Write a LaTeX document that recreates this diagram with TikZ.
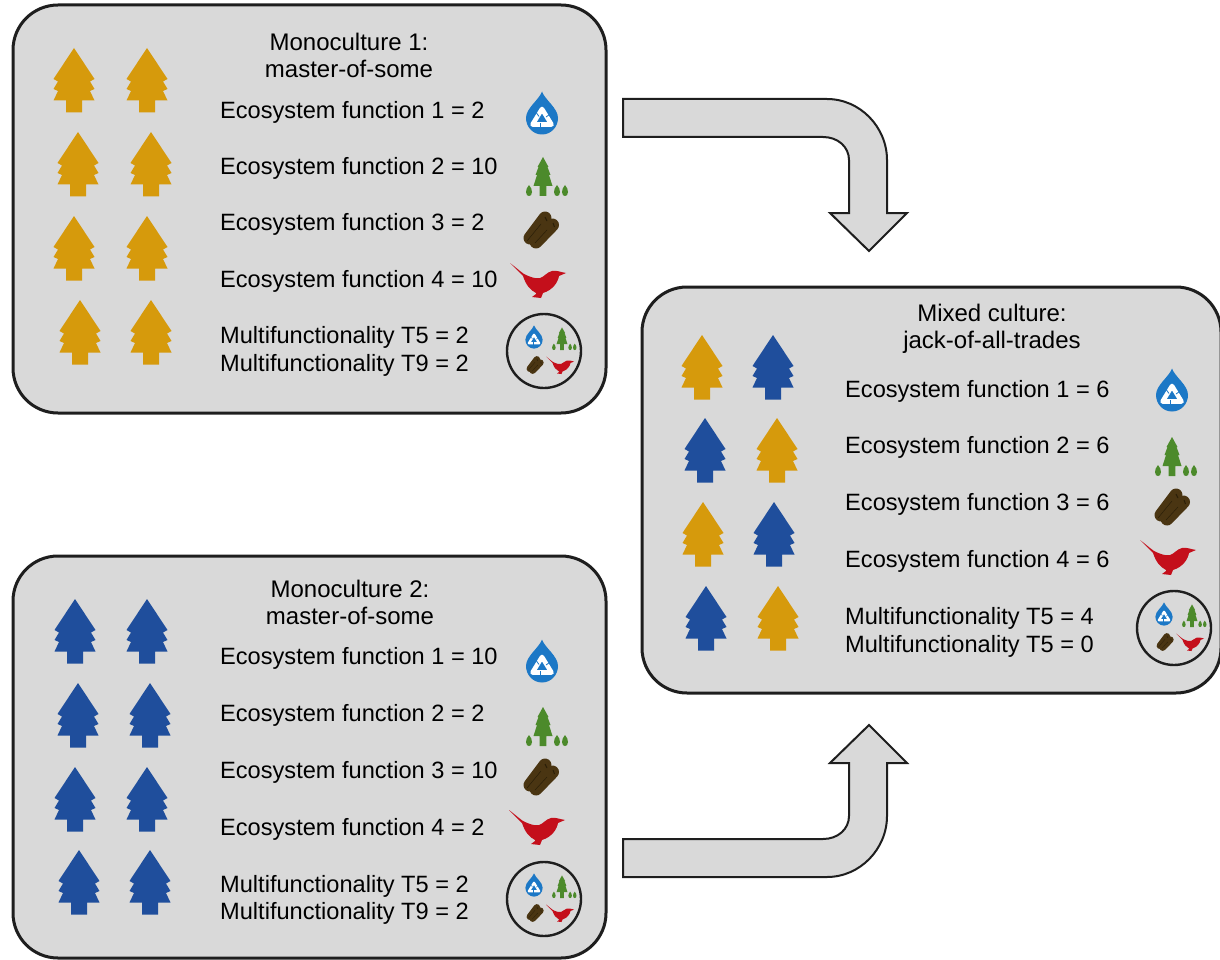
\documentclass[tikz,border=0pt]{standalone}
\usepackage{fontspec}
\setmainfont{Liberation Sans}
\definecolor{panelgray}{HTML}{D9D9D9}
\definecolor{edgedark}{HTML}{1E1E1E}
\definecolor{treegold}{HTML}{D69A0C}
\definecolor{treeblue}{HTML}{1F4E9C}
\definecolor{icongreen}{HTML}{4C8A2B}
\definecolor{iconred}{HTML}{C40F1B}
\definecolor{iconwater}{HTML}{1C78C6}
\definecolor{iconlog}{HTML}{4A3512}
\definecolor{iconlogdark}{HTML}{2A1E08}
\newcommand{\lwf}{1}
\tikzset{
  x=1pt,y=-1pt,
  panel/.style={draw=edgedark,fill=panelgray,line width=3pt,rounded corners=45pt},
  bigarrow/.style={draw=edgedark,fill=panelgray,line width=2pt,line join=miter},
  lab/.style={anchor=west,inner sep=0pt,font=\fontsize{23.6}{28}\selectfont},
  ttl/.style={anchor=center,inner sep=0pt,font=\fontsize{24}{28}\selectfont},
  ring/.style={draw=edgedark,line width=2.4pt,fill=none},
  bigtree/.pic={
    \fill[#1] (0,0) -- (20.5,31) -- (16,33.5) -- (20.5,41) -- (16,43) -- (20.5,52.5) -- (8,52.5) -- (8,64.5)
      -- (-8,64.5) -- (-8,52.5) -- (-20.5,52.5) -- (-16,43) -- (-20.5,41) -- (-16,33.5) -- (-20.5,31) -- cycle;
  },
  dropicon/.pic={
    \fill[iconwater] (0,-21.5) .. controls (3,-13) and (16,-5) .. (16,5) .. controls (16,14) and (9,21.5) .. (0,21.5)
      .. controls (-9,21.5) and (-16,14) .. (-16,5) .. controls (-16,-5) and (-3,-13) .. (0,-21.5) -- cycle;
    \draw[white,line width=\lwf*4.6pt,line join=round] (0,-4) -- (9.5,11.5) -- (-9.5,11.5) -- cycle;
    \draw[iconwater,line width=\lwf*.8pt] (-5.5,0) -- (-3,3.5);
    \draw[iconwater,line width=\lwf*.8pt] (7.5,1.5) -- (4,4);
    \draw[iconwater,line width=\lwf*.8pt] (-1.5,10) -- (-1.5,14);
  },
  firicon/.pic={
    \fill[icongreen] (0,-20) -- (5.5,-10) -- (4.5,-10) -- (7.5,-2) -- (6,-2) -- (9.5,9) -- (3.4,9) -- (3.4,19)
      -- (-3.4,19) -- (-3.4,9) -- (-9.5,9) -- (-6,-2) -- (-7.5,-2) -- (-4.5,-10) -- (-5.5,-10) -- cycle;
    \foreach \sx in {-14,14,22}
      \fill[icongreen] (\sx,8) .. controls (\sx+2,10) and (\sx+3,13) .. (\sx+3,15) .. controls (\sx+3,18) and (\sx+1.5,19) .. (\sx,19)
        .. controls (\sx-1.5,19) and (\sx-3,18) .. (\sx-3,15) .. controls (\sx-3,13) and (\sx-2,10) .. (\sx,8) -- cycle;
  },
  logicon/.pic={
    \draw[iconlog,line width=\lwf*13pt,line cap=round] (-11,8) -- (4,-12);
    \draw[iconlog,line width=\lwf*13pt,line cap=round] (-5,12) -- (11.5,-5);
    \draw[iconlogdark,line width=\lwf*1pt] (4,-13) -- (6,-9);
    \draw[iconlogdark,line width=\lwf*1pt] (12,-7) -- (13.5,-3);
    \draw[iconlogdark,line width=\lwf*.5pt] (-14,11) -- (0,-6);
    \draw[iconlogdark,line width=\lwf*.5pt] (-6,13) -- (6,0);
  },
  birdicon/.pic={
    \fill[iconred] (-28,-17) .. controls (-20,-11) and (-15,-6) .. (-12,-5) .. controls (-7,-3) and (-3,-1) .. (2,-2)
      .. controls (6,-3) and (9,-8) .. (14,-9) .. controls (18,-10) and (22,-8) .. (28,-7) -- (21,-4)
      .. controls (20,2) and (15,10) .. (5,13) -- (3,18) -- (-6,17) -- (-2,14) -- (-2,13)
      .. controls (-8,10) and (-12,5) .. (-15,-4) -- cycle;
  },
  trioicons/.pic={
    \def\lwf{.5}
    \pic[scale=.54] at (-10,-14) {dropicon};
    \pic[scale=.58] at (18,-12) {firicon};
    \pic[scale=.47] at (-9,14) {logicon};
    \pic[scale=.5] at (16,14) {birdicon};
  }
}
\begin{document}
\begin{tikzpicture}
\useasboundingbox (0,0) rectangle (1220,960);

% panels
\draw[panel] (13,5) rectangle (606,413);
\draw[panel] (13,556) rectangle (606,958);
\draw[panel] (642,287) rectangle (1221,693);

% arrows
\draw[bigarrow] (623,99) -- (827,99) .. controls (860,99) and (887,127) .. (887,160) -- (887,213) -- (907,213)
  -- (869,251) -- (830,213) -- (849,213) -- (849,160) .. controls (849,147) and (838,137) .. (823,137) -- (623,137) -- cycle;
\draw[bigarrow] (623,877) -- (827,877) .. controls (860,877) and (887,849) .. (887,816) -- (887,763) -- (907,763)
  -- (869,725) -- (830,763) -- (849,763) -- (849,816) .. controls (849,829) and (838,839) .. (823,839) -- (623,839) -- cycle;

% trees: monoculture 1
\foreach \tx/\ty in {74/48,147/48,78/132,151/132,74/216,147/216,80/300,151/300}
  \pic at (\tx,\ty) {bigtree={treegold}};
% trees: monoculture 2
\foreach \tx/\ty in {75/599,147/599,78/683,150/683,75/767,147/767,79/850,150/850}
  \pic at (\tx,\ty) {bigtree={treeblue}};
% trees: mixed
\foreach \tx/\ty in {702/335,777/418,703/502,778/586}
  \pic at (\tx,\ty) {bigtree={treegold}};
\foreach \tx/\ty in {773/335,705/418,774/502,706/586}
  \pic at (\tx,\ty) {bigtree={treeblue}};

% text: monoculture 1
\node[ttl] (t1a) at (349,42) {Monoculture 1:};
\node[ttl] (t1b) at (349,69) {master-of-some};
\node[lab] (a1) at (220,112) {Ecosystem function 1 = 2};
\node[lab] (a2) at (220,168) {Ecosystem function 2 = 10};
\node[lab] (a3) at (220,224) {Ecosystem function 3 = 2};
\node[lab] (a4) at (220,281) {Ecosystem function 4 = 10};
\node[lab] (a5) at (220,337) {Multifunctionality T5 = 2};
\node[lab] (a6) at (220,365) {Multifunctionality T9 = 2};
% text: monoculture 2
\node[ttl] (t2a) at (350,589) {Monoculture 2:};
\node[ttl] (t2b) at (350,616) {master-of-some};
\node[lab] (b1) at (220,658) {Ecosystem function 1 = 10};
\node[lab] (b2) at (220,715) {Ecosystem function 2 = 2};
\node[lab] (b3) at (220,772) {Ecosystem function 3 = 10};
\node[lab] (b4) at (220,829) {Ecosystem function 4 = 2};
\node[lab] (b5) at (220,886) {Multifunctionality T5 = 2};
\node[lab] (b6) at (220,913) {Multifunctionality T9 = 2};
% text: mixed
\node[ttl] (t3a) at (992,313) {Mixed culture:};
\node[ttl] (t3b) at (992,342) {jack-of-all-trades};
\node[lab] (c1) at (845,391) {Ecosystem function 1 = 6};
\node[lab] (c2) at (845,447) {Ecosystem function 2 = 6};
\node[lab] (c3) at (845,504) {Ecosystem function 3 = 6};
\node[lab] (c4) at (845,561) {Ecosystem function 4 = 6};
\node[lab] (c5) at (845,618) {Multifunctionality T5 = 4};
\node[lab] (c6) at (845,646) {Multifunctionality T5 = 0};

% icons
\pic at (542,113) {dropicon};
\pic at (543,177) {firicon};
\pic at (541,230) {logicon};
\pic at (538,280) {birdicon};
\draw[ring] (544,351) circle (37);
\pic at (544,351) {trioicons};

\pic at (542,661) {dropicon};
\pic at (543,727) {firicon};
\pic at (541,777) {logicon};
\pic at (537,827) {birdicon};
\draw[ring] (544,899) circle (37);
\pic at (544,899) {trioicons};

\pic at (1172,390) {dropicon};
\pic at (1172,457) {firicon};
\pic at (1172,507) {logicon};
\pic at (1168,557) {birdicon};
\draw[ring] (1174,628) circle (37);
\pic at (1174,628) {trioicons};
\end{tikzpicture}
\end{document}
